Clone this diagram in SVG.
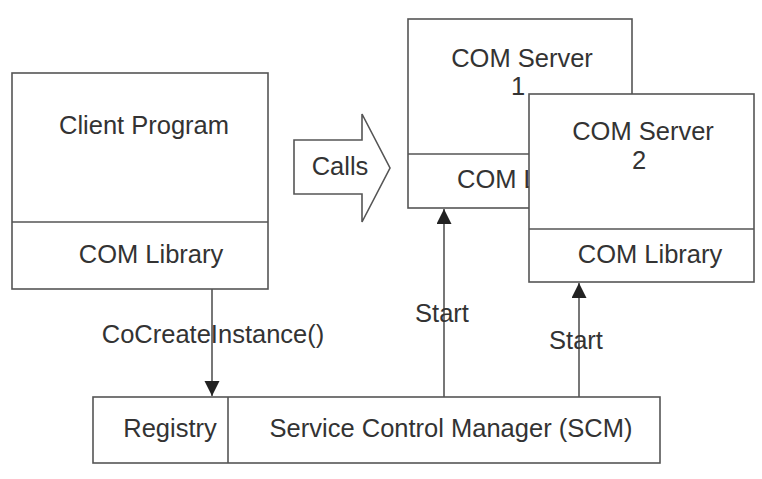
<svg xmlns="http://www.w3.org/2000/svg" width="762" height="479" viewBox="0 0 762 479">
<defs>
<style>
.box{fill:#fff;stroke:#555;stroke-width:1.6}
.ln{stroke:#555;stroke-width:1.6;fill:none}
text{font-family:"Liberation Sans",Arial,sans-serif;font-size:25.5px;fill:#333;text-anchor:middle}
</style>
<marker id="ah" markerWidth="16" markerHeight="16" refX="15" refY="7.5" orient="auto" markerUnits="userSpaceOnUse">
<path d="M0,0 L15,7.5 L0,15 Z" fill="#222"/>
</marker>
</defs>
<rect width="762" height="479" fill="#fff"/>
<g id="client">
<rect class="box" x="12" y="73" width="256" height="216"/>
<line class="ln" x1="12" y1="222" x2="268" y2="222"/>
<text x="144" y="134">Client Program</text>
<text x="151" y="263">COM Library</text>
</g>
<g id="calls">
<path class="box" d="M294,140 L362,140 L362,114 L390,168 L362,222 L362,194 L294,194 Z"/>
<text x="340" y="175">Calls</text>
</g>
<g id="server1">
<rect class="box" x="408" y="19" width="224" height="189"/>
<line class="ln" x1="408" y1="154" x2="632" y2="154"/>
<text x="522" y="67">COM Server</text>
<text x="518" y="95">1</text>
<text x="457" y="188" style="text-anchor:start">COM Library</text>
</g>
<g id="server2">
<rect class="box" x="529" y="94" width="225" height="188"/>
<line class="ln" x1="529" y1="229" x2="754" y2="229"/>
<text x="643" y="140">COM Server</text>
<text x="639" y="169">2</text>
<text x="650" y="263">COM Library</text>
</g>
<g id="scm">
<rect class="box" x="93" y="397" width="567" height="66"/>
<line class="ln" x1="228" y1="397" x2="228" y2="463"/>
<text x="170" y="437">Registry</text>
<text x="451" y="437">Service Control Manager (SCM)</text>
</g>
<g id="connectors">
<line class="ln" x1="212" y1="289" x2="212" y2="396" marker-end="url(#ah)"/>
<line class="ln" x1="444" y1="397" x2="444" y2="209" marker-end="url(#ah)"/>
<line class="ln" x1="579" y1="397" x2="579" y2="283" marker-end="url(#ah)"/>
<text x="213" y="343">CoCreateInstance()</text>
<text x="442" y="322">Start</text>
<text x="576" y="349">Start</text>
</g>
</svg>
